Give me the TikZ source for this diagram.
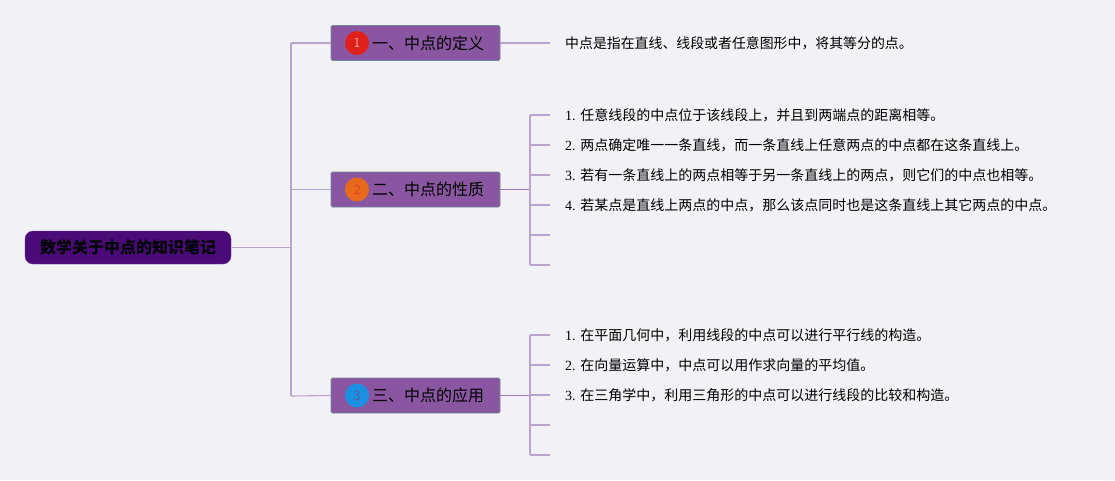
\documentclass[tikz,border=0pt]{standalone}
\usepackage{fontspec}
\setmainfont{Liberation Serif}
\newfontfamily\cjk{Noto Sans CJK SC}
\definecolor{bg}{HTML}{F2F1F5}
\definecolor{ln}{HTML}{B9A4D0}
\definecolor{lnd}{HTML}{9C7EC0}
\definecolor{boxf}{HTML}{8B56A1}
\definecolor{boxd}{HTML}{6E8796}
\definecolor{rootf}{HTML}{4A0A78}
\definecolor{c1}{HTML}{E0201A}
\definecolor{c2}{HTML}{E8691C}
\definecolor{c3}{HTML}{1B90E0}
\begin{document}
\begin{tikzpicture}[x=1pt,y=-1pt,
  conn/.style={draw=ln,line width=1.1pt},
  connd/.style={draw=lnd,line width=1.5pt},
  rootbox/.style={draw=rootf!80!white,fill=rootf,rounded corners=8pt,minimum width=206pt,minimum height=33pt,inner sep=0pt,font=\cjk\bfseries\fontsize{16}{16}\selectfont,text=black},
  topicbox/.style={draw=boxd,fill=boxf,rounded corners=1.5pt,line width=0.8pt,minimum width=169pt,minimum height=35pt,inner sep=0pt},
  numc/.style={circle,minimum size=24pt,inner sep=0pt,font=\sffamily\fontsize{14}{14}\selectfont},
  ttxt/.style={anchor=west,inner sep=0pt,font=\cjk\fontsize{16}{16}\selectfont,text=black},
  leaf/.style={anchor=west,inner sep=0pt,font=\fontsize{14}{14}\selectfont,text=black}
]
\fill[bg] (0,0) rectangle (1115,480);
\useasboundingbox (0,0) rectangle (1115,480);

\node[rootbox] (root) at (128,247.5) {数学关于中点的知识笔记};

\coordinate (tr) at (291,247.5);
\coordinate (ttop) at (291,43);
\coordinate (tbot) at (291,396);

\node[topicbox] (b1) at (415.5,43) {};
\node[topicbox] (b2) at (415.5,189.5) {};
\node[topicbox] (b3) at (415.5,395.5) {};

\node[numc,fill=c1,text=c1!40!white] (n1) at (357,43) {1};
\node[numc,fill=c2,text=c2!60!purple] (n2) at (357,189.5) {2};
\node[numc,fill=c3,text=c3!60!purple] (n3) at (357,395.5) {3};
\node[ttxt] (t1) at (372,43) {一、中点的定义};
\node[ttxt] (t2) at (372,189.5) {二、中点的性质};
\node[ttxt] (t3) at (372,395.5) {三、中点的应用};

% trunk
\draw[conn] (root.east) -- (tr);
\draw[conn] (ttop) -- (tbot);
\draw[conn] (ttop) -- (b1.west);
\draw[conn] (291,189.5) -- (b2.west);
\draw[conn] (tbot) -- (b3.west);

% branch 1
\coordinate (e1) at (550,43);
\draw[conn] (b1.east) -- (e1);
\node[leaf,font=\cjk\fontsize{13.9}{14}\selectfont] (l10) at (565,43) {中点是指在直线、线段或者任意图形中，将其等分的点。};

% branch 2
\coordinate (s2) at (530,189.5);
\draw[connd] (b2.east) -- (s2);
\draw[conn] (530,115) -- (530,265);
\foreach \y/\n in {115/a,145/b,175/c,205/d,235/e,265/f}{
  \coordinate (k2\n) at (550,\y);
  \draw[conn] (530,\y) -- (k2\n);
}
\node[leaf] (l21) at (565,115) {1. {\cjk 任意线段的中点位于该线段上，并且到两端点的距离相等。}};
\node[leaf] (l22) at (565,145) {2. {\cjk 两点确定唯一一条直线，而一条直线上任意两点的中点都在这条直线上。}};
\node[leaf] (l23) at (565,175) {3. {\cjk 若有一条直线上的两点相等于另一条直线上的两点，则它们的中点也相等。}};
\node[leaf] (l24) at (565,205) {4. {\cjk 若某点是直线上两点的中点，那么该点同时也是这条直线上其它两点的中点。}};

% branch 3
\coordinate (s3) at (530,395.5);
\draw[connd] (b3.east) -- (s3);
\draw[conn] (530,335) -- (530,455);
\foreach \y/\n in {335/a,365/b,395/c,425/d,455/e}{
  \coordinate (k3\n) at (550,\y);
  \draw[conn] (530,\y) -- (k3\n);
}
\node[leaf] (l31) at (565,335) {1. {\cjk 在平面几何中，利用线段的中点可以进行平行线的构造。}};
\node[leaf] (l32) at (565,365) {2. {\cjk 在向量运算中，中点可以用作求向量的平均值。}};
\node[leaf] (l33) at (565,395) {3. {\cjk 在三角学中，利用三角形的中点可以进行线段的比较和构造。}};
\end{tikzpicture}
\end{document}
